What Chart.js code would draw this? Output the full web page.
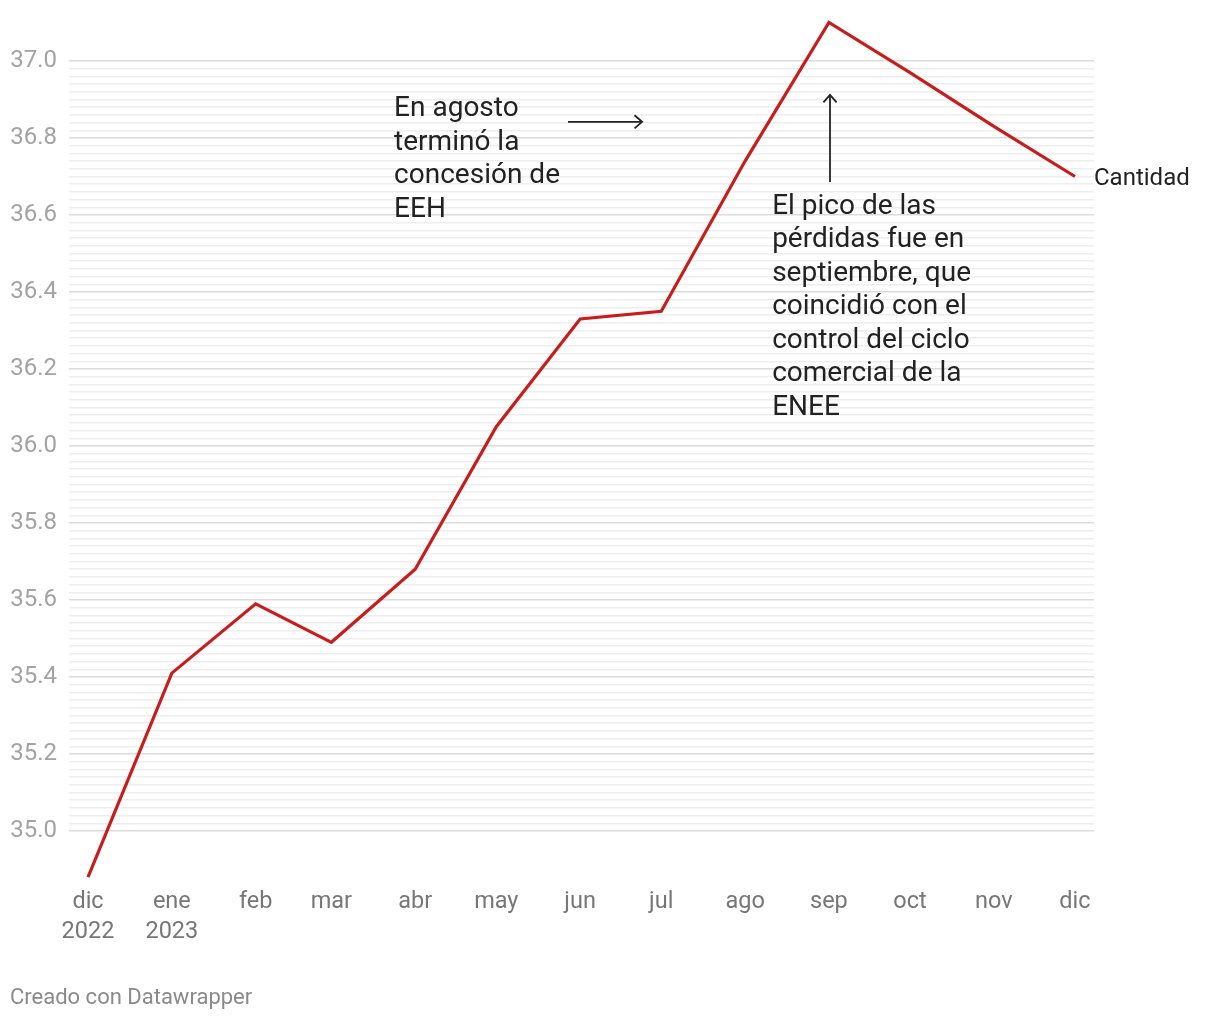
<!DOCTYPE html>
<html>
<head>
<meta charset="utf-8">
<script src="https://cdn.jsdelivr.net/npm/chart.js@4/dist/chart.umd.min.js"></script>
<style>
  html, body { margin: 0; padding: 0; background: #fff; }
  #wrap { position: relative; width: 1220px; height: 1020px; }
  canvas { display: block; }
  #footer { position: absolute; left: 10px; top: 984px; line-height: 26px; font-family: Roboto, sans-serif; font-size: 22px; color: #8a8a8a; }
</style>
</head>
<body>
<div id="wrap">
  <canvas id="c" width="1220" height="1020"></canvas>
  <div id="footer">Creado con Datawrapper</div>
</div>
<script>
const dates = ["2022-12-01","2023-01-01","2023-02-01","2023-03-01","2023-04-01","2023-05-01","2023-06-01","2023-07-01","2023-08-01","2023-09-01","2023-10-01","2023-11-01","2023-12-01"];
const tickLabels = [["dic","2022"],["ene","2023"],"feb","mar","abr","may","jun","jul","ago","sep","oct","nov","dic"];
const cantidad = [34.88, 35.41, 35.59, 35.49, 35.68, 36.05, 36.33, 36.35, 36.74, 37.10, 36.97, 36.83, 36.70];
const seriesName = "Cantidad";
const yTickMin = 35.0, yTickMax = 37.0, yMinorStep = 0.02, yMajorStep = 0.2;

const DAY = 86400000;
const t0 = Date.parse(dates[0]);
const dayOf = s => Math.round((Date.parse(s) - t0) / DAY);
const xDays = dates.map(dayOf);
const lastDay = xDays[xDays.length - 1];

// annotation anchors in data units (days since first date, value)
const annotations = [
  { lines: ["En agosto","terminó la","concesión de","EEH"], x: 113.2, y: 36.875 },
  { lines: ["El pico de las","pérdidas fue en","septiembre, que","coincidió con el","control del ciclo","comercial de la","ENEE"], x: 253.0, y: 36.621 }
];
const arrows = [
  { x1: 177.5, y1: 36.842, x2: 204.9, y2: 36.842 },
  { x1: 274.4, y1: 36.686, x2: 274.4, y2: 36.912 }
];

const overlay = {
  id: 'overlay',
  afterDatasetsDraw(chart) {
    const ctx = chart.ctx, xs = chart.scales.x, ys = chart.scales.y;
    ctx.save();
    const li = cantidad.length - 1;
    ctx.font = '24px Roboto';
    ctx.fillStyle = '#222';
    ctx.textBaseline = 'middle';
    ctx.textAlign = 'left';
    ctx.fillText(seriesName, xs.getPixelForValue(xDays[li]) + 19, ys.getPixelForValue(cantidad[li]) + 3);
    ctx.font = '28px Roboto';
    annotations.forEach(a => {
      const px = xs.getPixelForValue(a.x), py = ys.getPixelForValue(a.y);
      a.lines.forEach((t, i) => ctx.fillText(t, px, py + i * 33.5));
    });
    ctx.strokeStyle = '#222';
    ctx.lineWidth = 1.8;
    arrows.forEach(r => {
      const x1 = xs.getPixelForValue(r.x1), y1 = ys.getPixelForValue(r.y1);
      const x2 = xs.getPixelForValue(r.x2), y2 = ys.getPixelForValue(r.y2);
      ctx.beginPath(); ctx.moveTo(x1, y1); ctx.lineTo(x2, y2); ctx.stroke();
      const ang = Math.atan2(y2 - y1, x2 - x1), h = 10;
      ctx.beginPath();
      ctx.moveTo(x2 - h * Math.cos(ang - 0.72), y2 - h * Math.sin(ang - 0.72));
      ctx.lineTo(x2, y2);
      ctx.lineTo(x2 - h * Math.cos(ang + 0.72), y2 - h * Math.sin(ang + 0.72));
      ctx.stroke();
    });
    ctx.restore();
  }
};

const isMajor = v => Math.abs(v / yMajorStep - Math.round(v / yMajorStep)) < 1e-6;

new Chart(document.getElementById('c'), {
  type: 'line',
  data: {
    datasets: [{
      label: seriesName,
      data: cantidad.map((v, i) => ({ x: xDays[i], y: v })),
      borderColor: '#c71e1d',
      borderWidth: 3.2,
      pointRadius: 0,
      tension: 0,
      clip: false
    }]
  },
  options: {
    responsive: false,
    animation: false,
    events: [],
    layout: { padding: { top: 18.65, right: 126, bottom: 73, left: 0 } },
    plugins: { legend: { display: false }, tooltip: { enabled: false } },
    scales: {
      x: {
        type: 'linear',
        min: -7.03, max: lastDay + 7.03,
        afterBuildTicks: s => { s.ticks = xDays.map(d => ({ value: d })); },
        afterFit: s => { s.paddingLeft = 0; s.paddingRight = 0; s.height = 66; },
        grid: { display: false },
        border: { display: false },
        ticks: {
          autoSkip: false, maxRotation: 0, padding: -2,
          color: '#777', font: { family: 'Roboto', size: 23.5, lineHeight: 1.277 },
          callback: v => { const i = xDays.indexOf(v); return i >= 0 ? tickLabels[i] : ''; }
        }
      },
      y: {
        min: 34.87, max: 37.11,
        afterBuildTicks: s => {
          const t = [];
          const n = Math.round((yTickMax - yTickMin) / yMinorStep);
          for (let i = 0; i <= n; i++) t.push({ value: +(yTickMin + i * yMinorStep).toFixed(2) });
          s.ticks = t;
        },
        afterFit: s => { s.width = 69; s.paddingTop = 0; s.paddingBottom = 0; },
        border: { display: false },
        grid: {
          drawTicks: false,
          color: c => isMajor(c.tick.value) ? '#dcdcdc' : '#eeeeee',
          lineWidth: 1.5
        },
        ticks: {
          autoSkip: false, padding: 12,
          color: '#a3a3a3', font: { family: 'Roboto', size: 24 },
          callback: v => isMajor(v) ? v.toFixed(1) : ''
        }
      }
    }
  },
  plugins: [overlay]
});
</script>
</body>
</html>
